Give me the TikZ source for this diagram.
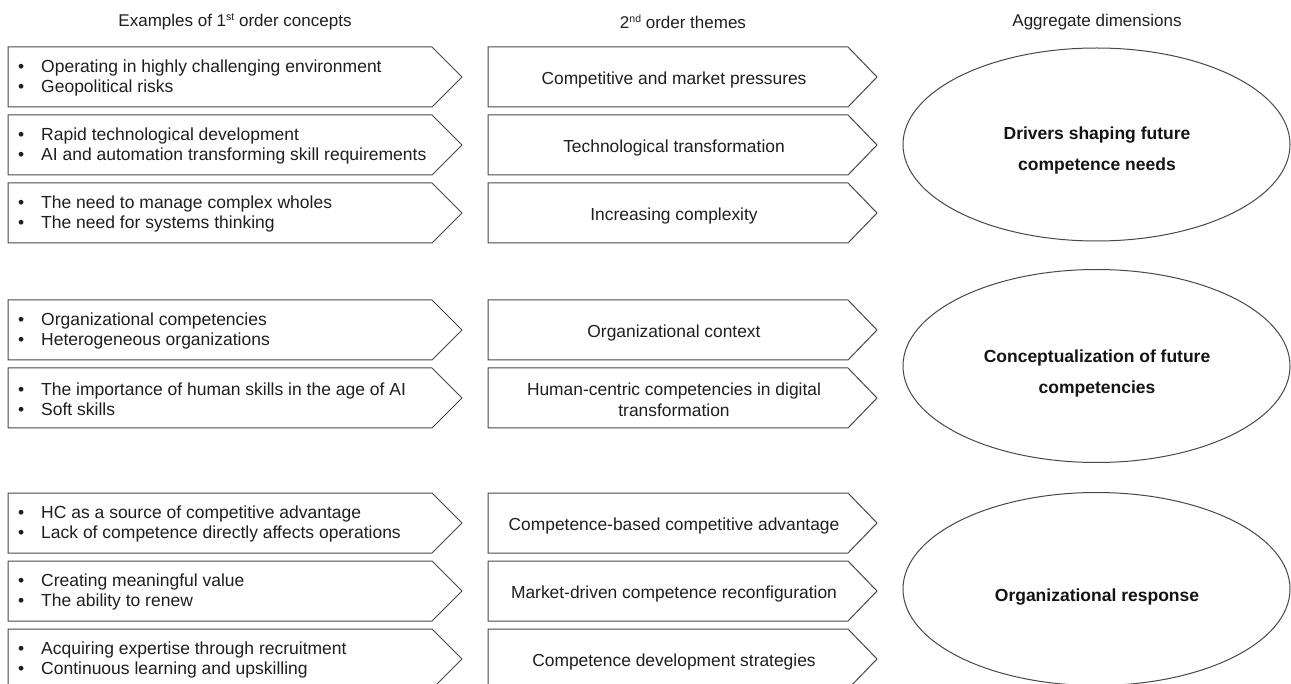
\documentclass[tikz,border=0pt]{standalone}
\usepackage{fontspec}
\setmainfont{Liberation Sans}
\usetikzlibrary{shapes.geometric}
\tikzset{
  outl/.style={draw=black!72, line width=1pt, line join=miter},
  bultext/.style={anchor=west, align=left, inner sep=0pt, font=\fontsize{17.5}{20}\selectfont, text=black!88},
  themetext/.style={align=center, inner sep=0pt, font=\fontsize{17.4}{21}\selectfont, text=black!88},
  headtext/.style={inner sep=0pt, font=\fontsize{17}{19}\selectfont, text=black!88},
  dimell/.style={outl, ellipse, minimum width=387pt, minimum height=193pt, inner sep=0pt},
  dimtext/.style={align=center, inner sep=0pt, font=\fontsize{17.5}{31}\selectfont\bfseries, text=black!92}
}
\newcommand{\bl}[1]{\makebox[23pt][l]{\textbullet}#1}
\newcommand{\supx}[1]{\raisebox{6.5pt}{\fontsize{10.5}{10}\selectfont #1}}
% chevron: x-left, x-body-end, x-tip, top, bottom
\newcommand{\chevpath}[5]{\draw[outl] (#1,#4) -- (#2,#4) -- (#3,{(#4+#5)/2}) -- (#2,#5) -- (#1,#5) -- cycle;}
\begin{document}
\begin{tikzpicture}[x=1pt,y=-1pt]
\useasboundingbox (0,0) rectangle (1291,684);
\clip (0,0) rectangle (1291,684);
\fill[white] (0,0) rectangle (1291,684);

% headers
\node[headtext] (h1) at (235,22) {Examples of 1\supx{st} order concepts};
\node[headtext] (h2) at (683,22) {2\supx{nd} order themes};
\node[headtext] (h3) at (1097,22) {Aggregate dimensions};

% chevrons
\foreach \t in {47,115,183,300,368,493,561,629}{
  \chevpath{8}{432}{462}{\t}{\t+60}
  \chevpath{488}{848}{877}{\t}{\t+60}
}

% first-order concepts
\node[bultext] (c1) at (18,78) {\bl{Operating in highly challenging environment}\\\bl{Geopolitical risks}};
\node[bultext] (c2) at (18,146) {\bl{Rapid technological development}\\\bl{AI and automation transforming skill requirements}};
\node[bultext] (c3) at (18,214) {\bl{The need to manage complex wholes}\\\bl{The need for systems thinking}};
\node[bultext] (c4) at (18,331) {\bl{Organizational competencies}\\\bl{Heterogeneous organizations}};
\node[bultext] (c5) at (18,399) {\bl{The importance of human skills in the age of AI}\\\bl{Soft skills}};
\node[bultext] (c6) at (18,524) {\bl{HC as a source of competitive advantage}\\\bl{Lack of competence directly affects operations}};
\node[bultext] (c7) at (18,592) {\bl{Creating meaningful value}\\\bl{The ability to renew}};
\node[bultext] (c8) at (18,660) {\bl{Acquiring expertise through recruitment}\\\bl{Continuous learning and upskilling}};

% second-order themes
\node[themetext] (t1) at (674,80) {Competitive and market pressures};
\node[themetext] (t2) at (674,148) {Technological transformation};
\node[themetext] (t3) at (674,216) {Increasing complexity};
\node[themetext] (t4) at (674,333) {Organizational context};
\node[themetext] (t5) at (674,400) {Human-centric competencies in digital\\transformation};
\node[themetext] (t6) at (674,526) {Competence-based competitive advantage};
\node[themetext] (t7) at (674,594) {Market-driven competence reconfiguration};
\node[themetext] (t8) at (674,662) {Competence development strategies};

% aggregate dimensions
\node[dimell] (e1) at (1096.5,144.5) {};
\node[dimell] (e2) at (1096.5,366) {};
\node[dimell] (e3) at (1096.5,589) {};
\node[dimtext] (d1) at (1097,150) {Drivers shaping future\\competence needs};
\node[dimtext] (d2) at (1097,373) {Conceptualization of future\\competencies};
\node[dimtext] (d3) at (1097,597) {Organizational response};
\end{tikzpicture}
\end{document}
